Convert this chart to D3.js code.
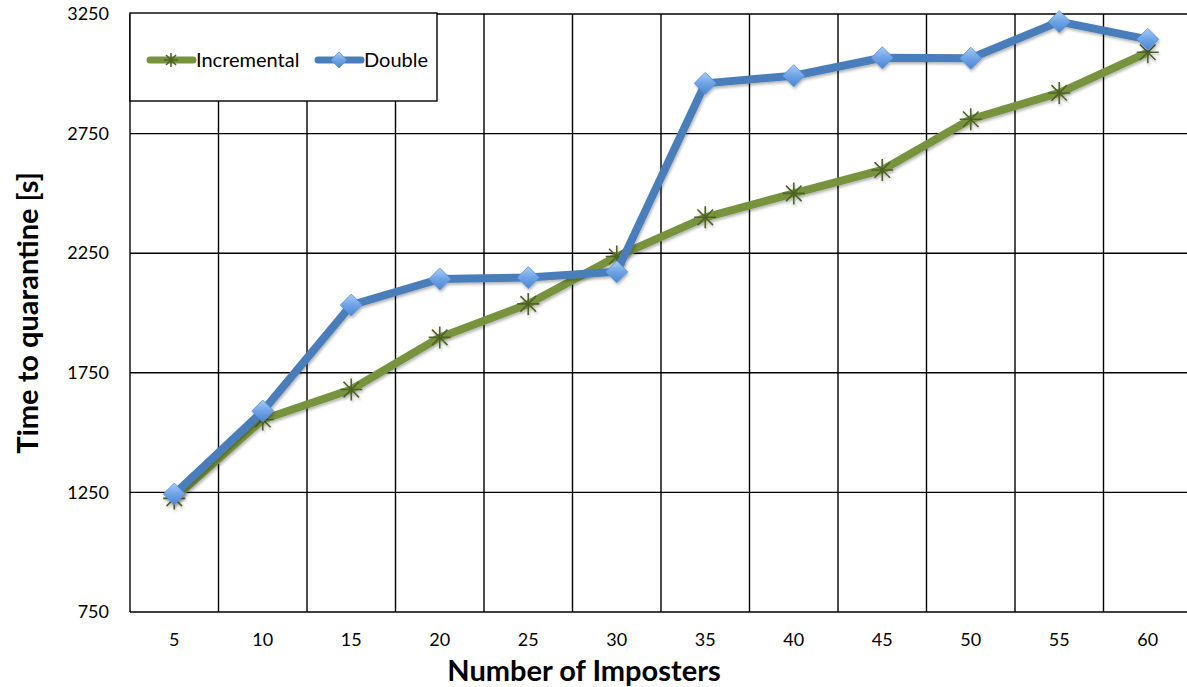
<!DOCTYPE html>
<html>
<head>
<meta charset="utf-8">
<script src="https://cdn.jsdelivr.net/npm/d3@7"></script>
<style>
  html, body { margin: 0; padding: 0; background: #fff; overflow: hidden; }
  svg { display: block; }
  text { font-family: Lato, "Open Sans", sans-serif; fill: #000; }
</style>
</head>
<body>
<svg id="chart" width="1187" height="687"></svg>
<script>
const categories = ["5","10","15","20","25","30","35","40","45","50","55","60"];
const incremental = [1225, 1555, 1680, 1898, 2038, 2236, 2400, 2500, 2598, 2810, 2920, 3090];
const double = [1243, 1590, 2033, 2142, 2148, 2172, 2960, 2992, 3067, 3065, 3218, 3144];
const yTicks = [750, 1250, 1750, 2250, 2750, 3250];
const seriesNames = ["Incremental", "Double"];

const svg = d3.select("#chart");
const pLeft = 130, pTop = 14, pBottom = 612, pRight = 130 + 12 * 88.5;

const x = d3.scaleBand().domain(categories).range([pLeft, pRight]).padding(0);
const y = d3.scaleLinear().domain([750, 3250]).range([pBottom, pTop]);

const defs = svg.append("defs");
const f = defs.append("filter").attr("id", "shadow").attr("x", "-10%").attr("y", "-10%").attr("width", "120%").attr("height", "130%");
f.append("feDropShadow").attr("dx", 1).attr("dy", 2).attr("stdDeviation", 1.5).attr("flood-color", "#000").attr("flood-opacity", 0.3);
const g1 = defs.append("linearGradient").attr("id", "diamondGrad").attr("x1", 0).attr("y1", 0).attr("x2", 0).attr("y2", 1);
g1.append("stop").attr("offset", "0%").attr("stop-color", "#a9cdf5");
g1.append("stop").attr("offset", "50%").attr("stop-color", "#6fa3e6");
g1.append("stop").attr("offset", "100%").attr("stop-color", "#4a86d4");

// gridlines
const grid = svg.append("g");
grid.selectAll("line.h").data(yTicks).join("line")
  .attr("x1", pLeft).attr("x2", pRight)
  .attr("y1", d => y(d)).attr("y2", d => y(d))
  .attr("stroke", "#000").attr("stroke-width", 1.4);
const vb = categories.map(c => x(c));
grid.selectAll("line.v").data(vb).join("line")
  .attr("x1", d => d).attr("x2", d => d)
  .attr("y1", pTop).attr("y2", pBottom)
  .attr("stroke", "#000").attr("stroke-width", 1.4);

// y axis labels
const yAxis = d3.axisLeft(y).tickValues(yTicks).tickFormat(d3.format("d")).tickSize(0).tickPadding(21);
const ya = svg.append("g").attr("transform", `translate(${pLeft},0)`).call(yAxis);
ya.select(".domain").remove();
ya.selectAll("text").style("font-size", "18px").style("font-family", "Lato, 'Open Sans', sans-serif").attr("fill", "#000");

// x axis labels
const xAxis = d3.axisBottom(x).tickSize(0).tickPadding(21);
const xa = svg.append("g").attr("transform", `translate(0,${pBottom})`).call(xAxis);
xa.select(".domain").remove();
xa.selectAll("text").style("font-size", "18px").style("font-family", "Lato, 'Open Sans', sans-serif").attr("fill", "#000");

// axis titles
svg.append("text").attr("x", 584).attr("y", 681).attr("text-anchor", "middle")
  .style("font-size", "29px").style("font-weight", "bold").text("Number of Imposters");
svg.append("text").attr("transform", "translate(38,313) rotate(-90)").attr("text-anchor", "middle")
  .style("font-size", "29px").style("font-weight", "bold").text("Time to quarantine [s]");

const cx = c => x(c) + x.bandwidth() / 2;
const line = d3.line().x(d => cx(d[0])).y(d => y(d[1]));

function star(g, px, py, r) {
  const p = d3.path();
  for (let k = 0; k < 4; k++) {
    const a = k * Math.PI / 4;
    const dx = Math.cos(a) * r, dy = Math.sin(a) * r;
    p.moveTo(px - dx, py - dy); p.lineTo(px + dx, py + dy);
  }
  g.append("path").attr("d", p.toString()).attr("stroke", "#4f6228").attr("stroke-width", 1.6).attr("fill", "none");
}
function diamond(g, px, py, r) {
  g.append("path").attr("d", `M${px},${py - r}L${px + r},${py}L${px},${py + r}L${px - r},${py}Z`)
    .attr("fill", "url(#diamondGrad)").attr("stroke", "#5b8fd6").attr("stroke-width", 0.8);
}

// Incremental
const gi = svg.append("g").attr("filter", "url(#shadow)");
gi.append("path").datum(categories.map((c, i) => [c, incremental[i]])).attr("d", line)
  .attr("fill", "none").attr("stroke", "#77933c").attr("stroke-width", 8).attr("stroke-linejoin", "round");
categories.forEach((c, i) => star(gi, cx(c), y(incremental[i]), 11));

// Double
const gd = svg.append("g").attr("filter", "url(#shadow)");
gd.append("path").datum(categories.map((c, i) => [c, double[i]])).attr("d", line)
  .attr("fill", "none").attr("stroke", "#4a7ebb").attr("stroke-width", 8).attr("stroke-linejoin", "round");
categories.forEach((c, i) => diamond(gd, cx(c), y(double[i]), 11));

// legend
const lg = svg.append("g");
lg.append("rect").attr("x", 130).attr("y", 13).attr("width", 307).attr("height", 88)
  .attr("fill", "#fff").attr("stroke", "#000").attr("stroke-width", 1.4);
const li = lg.append("g");
li.append("line").attr("x1", 150).attr("x2", 193).attr("y1", 60).attr("y2", 60)
  .attr("stroke", "#77933c").attr("stroke-width", 7).attr("stroke-linecap", "round");
star(li, 171, 60, 7);
lg.append("text").attr("x", 196).attr("y", 67).style("font-size", "20px").text(seriesNames[0]);
const ld = lg.append("g");
ld.append("line").attr("x1", 318).attr("x2", 361).attr("y1", 60).attr("y2", 60)
  .attr("stroke", "#4a7ebb").attr("stroke-width", 7).attr("stroke-linecap", "round");
diamond(ld, 339, 60, 8);
lg.append("text").attr("x", 364).attr("y", 67).style("font-size", "20px").text(seriesNames[1]);
</script>
</body>
</html>
